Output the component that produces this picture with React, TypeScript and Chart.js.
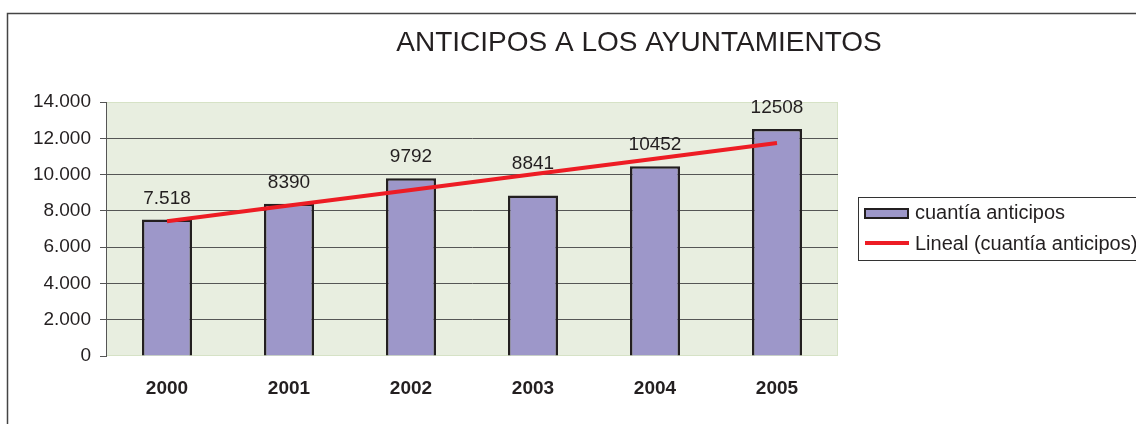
import React, { useEffect, useRef } from "react";
import { Chart, registerables } from "chart.js";

Chart.register(...registerables);

const years = ["2000", "2001", "2002", "2003", "2004", "2005"];
const amounts = [7518, 8390, 9792, 8841, 10452, 12508];
const valueLabels = ["7.518", "8390", "9792", "8841", "10452", "12508"];
const titleText = "ANTICIPOS A LOS AYUNTAMIENTOS";
const seriesName = "cuantía anticipos";
const trendName = "Lineal (cuantía anticipos)";

const FONT = "'Liberation Sans', Arial, Helvetica, sans-serif";
const INK = "#231F20";
const BAR_FILL = "#9D97C9";
const PLOT_BG = "#E8EEE0";
const TREND = "#ED1C24";

function linearTrend(values: number[]): number[] {
  const n = values.length;
  const mx = (n - 1) / 2;
  const my = values.reduce((a, b) => a + b, 0) / n;
  let sxy = 0;
  let sxx = 0;
  values.forEach((v, i) => {
    sxy += (i - mx) * (v - my);
    sxx += (i - mx) * (i - mx);
  });
  const slope = sxy / sxx;
  return values.map((_, i) => my + slope * (i - mx));
}

const formatThousands = (v: number) =>
  String(Math.round(v)).replace(/\B(?=(\d{3})+(?!\d))/g, ".");

const decorPlugin = {
  id: "decor",
  beforeDraw(chart: any) {
    const { ctx, chartArea } = chart;
    const { left, top, right, bottom } = chartArea;
    ctx.save();
    ctx.fillStyle = "#ffffff";
    ctx.fillRect(0, 0, chart.width, chart.height);
    ctx.fillStyle = PLOT_BG;
    ctx.fillRect(left, top, right - left, bottom - top);
    ctx.strokeStyle = "#D6E2C6";
    ctx.lineWidth = 1;
    ctx.strokeRect(left + 0.5, top + 0.5, right - left - 1, bottom - top - 1);
    ctx.restore();
  },
  afterDatasetsDraw(chart: any) {
    const { ctx } = chart;
    const barMeta = chart.getDatasetMeta(0);
    const lineMeta = chart.getDatasetMeta(1);
    ctx.save();
    ctx.font = `19px ${FONT}`;
    ctx.fillStyle = INK;
    ctx.textAlign = "center";
    ctx.textBaseline = "alphabetic";
    barMeta.data.forEach((el: any, i: number) => {
      const lineY = lineMeta.data[i] ? lineMeta.data[i].y : Infinity;
      const base = Math.min(el.y - 16, lineY - 5);
      ctx.fillText(valueLabels[i], el.x, base);
    });
    ctx.restore();
  },
  afterDraw(chart: any) {
    const { ctx } = chart;
    ctx.save();
    // outer frame
    ctx.strokeStyle = "#444444";
    ctx.lineWidth = 1.5;
    ctx.beginPath();
    ctx.moveTo(7.5, chart.height);
    ctx.lineTo(7.5, 13.5);
    ctx.lineTo(chart.width, 13.5);
    ctx.stroke();
    // title
    ctx.fillStyle = INK;
    ctx.font = `28px ${FONT}`;
    ctx.textAlign = "center";
    ctx.textBaseline = "alphabetic";
    ctx.fillText(titleText, 639, 51);
    // legend
    ctx.lineWidth = 1;
    ctx.strokeStyle = "#333333";
    ctx.strokeRect(858.5, 197.5, 320, 63);
    ctx.fillStyle = BAR_FILL;
    ctx.fillRect(864, 208, 45, 11);
    ctx.lineWidth = 2;
    ctx.strokeStyle = INK;
    ctx.strokeRect(865, 209, 43, 9);
    ctx.strokeStyle = TREND;
    ctx.lineWidth = 4;
    ctx.beginPath();
    ctx.moveTo(865, 243);
    ctx.lineTo(909, 243);
    ctx.stroke();
    ctx.fillStyle = INK;
    ctx.font = `20px ${FONT}`;
    ctx.textAlign = "left";
    ctx.textBaseline = "middle";
    ctx.fillText(seriesName, 915, 213);
    ctx.fillText(trendName, 915, 244);
    ctx.restore();
  },
};

export default function App() {
  const canvasRef = useRef<HTMLCanvasElement | null>(null);

  useEffect(() => {
    if (!canvasRef.current) return;
    const trend = linearTrend(amounts);
    const chart = new Chart(canvasRef.current, {
      type: "bar",
      data: {
        labels: years,
        datasets: [
          {
            type: "bar",
            label: seriesName,
            data: amounts,
            backgroundColor: BAR_FILL,
            borderColor: INK,
            borderWidth: 2.5,
            barPercentage: 0.41,
            categoryPercentage: 1,
            order: 1,
          } as any,
          {
            type: "line",
            label: trendName,
            data: trend,
            borderColor: TREND,
            borderWidth: 4,
            pointRadius: 0,
            fill: false,
            tension: 0,
            order: 0,
          } as any,
        ],
      },
      options: {
        responsive: false,
        animation: false,
        devicePixelRatio: 1,
        layout: { padding: { top: 102, right: 298, left: 0, bottom: 0 } },
        plugins: {
          legend: { display: false },
          title: { display: false },
          tooltip: { enabled: false },
        },
        scales: {
          x: {
            grid: { display: false, drawTicks: false },
            border: { display: false },
            ticks: {
              padding: 21,
              color: INK,
              font: { family: FONT, size: 19, weight: "bold" },
            },
            afterFit: (scale: any) => {
              scale.height = 68;
            },
          },
          y: {
            min: 0,
            max: 14000,
            grid: {
              color: (ctx: any) =>
                ctx.tick && (ctx.tick.value === 0 || ctx.tick.value === 14000)
                  ? "rgba(0,0,0,0)"
                  : "#555555",
              tickColor: "#555555",
              tickLength: 6,
              lineWidth: 1,
            },
            border: { display: true, color: "#555555", width: 1 },
            ticks: {
              stepSize: 2000,
              padding: 9,
              color: INK,
              font: { family: FONT, size: 19 },
              callback: (v: any) => formatThousands(Number(v)),
            },
            afterFit: (scale: any) => {
              scale.width = 106;
            },
          },
        },
      },
      plugins: [decorPlugin],
    });
    return () => chart.destroy();
  }, []);

  return (
    <div style={{ position: "fixed", left: 0, top: 0, width: 1136, height: 424, background: "#fff" }}>
      <canvas ref={canvasRef} width={1136} height={424} style={{ display: "block" }} />
    </div>
  );
}
